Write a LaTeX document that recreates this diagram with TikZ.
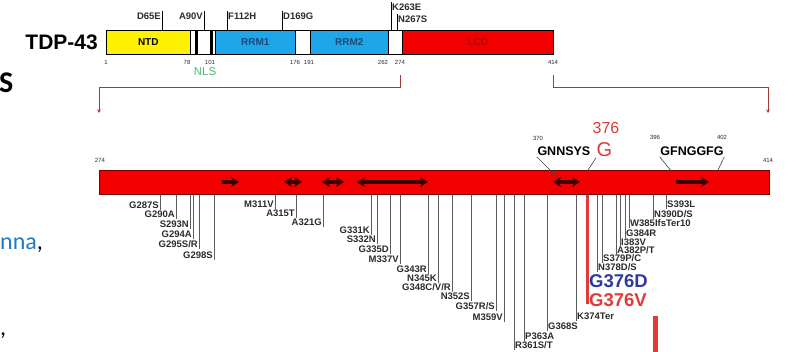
\documentclass[tikz,border=0pt]{standalone}
\usepackage{fontspec}
\setmainfont{Liberation Sans}
\newfontfamily\bodyfont{Carlito}
\usepackage{tikz}
\usetikzlibrary{arrows.meta, positioning, calc}
\definecolor{ntdyellow}{HTML}{FFF200}
\definecolor{rrmblue}{HTML}{1EA7E8}
\definecolor{rrmtext}{HTML}{1C4A7A}
\definecolor{lcdred}{HTML}{F20000}
\definecolor{lcddark}{HTML}{7A0000}
\definecolor{lcdtext}{HTML}{B80000}
\definecolor{brkred}{HTML}{A33A3A}
\definecolor{leadgray}{HTML}{5C5C5C}
\definecolor{mutgray}{HTML}{2B2B2B}
\definecolor{nlsgreen}{HTML}{4CBB6E}
\definecolor{hotred}{HTML}{E03A3A}
\definecolor{deepblue}{HTML}{2E3A9E}
\definecolor{linkblue}{HTML}{1F7BC4}
\definecolor{strandred}{HTML}{3A0000}
\newcommand{\mutfont}{\fontsize{9.5}{10}\selectfont\bfseries}
\newcommand{\posfont}{\fontsize{6}{6}\selectfont}

\begin{document}
\begin{tikzpicture}[x=1pt, y=-1pt,
  dom/.style={draw=black, line width=0.6pt, inner sep=0pt, minimum height=24pt, anchor=north west, font=\fontsize{10}{10}\selectfont\bfseries},
  posnum/.style={font=\posfont, text=mutgray, inner sep=0.5pt},
  toplbl/.style={font=\fontsize{9.5}{10}\selectfont\bfseries, text=mutgray, inner sep=1pt},
  mut/.style={font=\mutfont, text=mutgray, inner sep=1pt},
  lead/.style={draw=leadgray, line width=0.7pt},
  toplead/.style={draw=black, line width=0.6pt},
  motiflead/.style={draw=black!75, line width=0.6pt},
  brk/.style={draw=brkred, line width=1pt, -{Stealth[length=3.5pt,width=3.5pt]}},
  strand/.style={draw=strandred, line width=3.2pt, -{Stealth[length=8pt,width=10pt]}},
  strandboth/.style={draw=strandred, line width=3.2pt, {Stealth[length=8pt,width=10pt]}-{Stealth[length=8pt,width=10pt]}},
  motif/.style={font=\fontsize{12.5}{12.5}\selectfont\bfseries, inner sep=0.5pt},
  big/.style={font=\fontsize{18.5}{18.5}\selectfont\bfseries, inner sep=0pt, anchor=west}]
  \fill[white] (0,0) rectangle (798,352);
  \useasboundingbox (0,0) rectangle (798,352);
  % ============ cut-off page text on the left ============
  \node[font=\bodyfont\fontsize{30}{30}\selectfont\bfseries, anchor=base west, inner sep=0pt] (frags) at (-1,93) {S};
  \node[font=\bodyfont\fontsize{24}{24}\selectfont, text=linkblue, anchor=base west, inner sep=0pt] (fragnna) at (0,250) {nna\textcolor{black}{,}};
  \node[font=\bodyfont\fontsize{24}{24}\selectfont, anchor=base west, inner sep=0pt] (fragcomma) at (0,336) {,};
  % ============ full-length TDP-43 ============
  \node[dom, fill=ntdyellow, minimum width=84pt] (ntd) at (106,30) {NTD};
  \node[dom, fill=white, minimum width=25pt] (nls) at (190,30) {};
  \node[dom, fill=rrmblue, minimum width=80pt, text=rrmtext] (rrm1) at (215,30) {RRM1};
  \node[dom, fill=white, minimum width=15pt] (gap1) at (295,30) {};
  \node[dom, fill=rrmblue, minimum width=78pt, text=rrmtext] (rrm2) at (310,30) {RRM2};
  \node[dom, fill=white, minimum width=14pt] (gap2) at (388,30) {};
  \node[dom, fill=lcdred, minimum width=151pt, text=lcdtext] (lcd) at (402,30) {LCD};
  \draw[line width=2.6pt] ([xshift=6.5pt]nls.north west) -- ([xshift=6.5pt]nls.south west);
  \draw[line width=2.6pt] ([xshift=21.5pt]nls.north west) -- ([xshift=21.5pt]nls.south west);
  \node[font=\fontsize{21}{21}\selectfont\bfseries, inner sep=0pt, left=8pt of ntd] (protein) {TDP-43};
  \node[posnum] (p1) at (106,62) {1};
  \node[posnum] (p78) at (187,62) {78};
  \node[posnum] (p101) at (210,62) {101};
  \node[posnum] (p176) at (295,62) {176};
  \node[posnum] (p191) at (309,62) {191};
  \node[posnum] (p262) at (383,62) {262};
  \node[posnum] (p274) at (400,62) {274};
  \node[posnum] (p414) at (553,62) {414};
  \node[font=\fontsize{11.5}{11.5}\selectfont, text=nlsgreen, inner sep=0pt] (nlstxt) at (205,72) {NLS};
  % mutations above the bar
  \node[toplbl, anchor=east] (d65e) at (162,16) {D65E};
  \node[toplbl, anchor=east] (a90v) at (204,16) {A90V};
  \node[toplbl, anchor=west] (f112h) at (227,16) {F112H};
  \node[toplbl, anchor=west] (d169g) at (282,16) {D169G};
  \node[toplbl, anchor=west] (k263e) at (391,7) {K263E};
  \node[toplbl, anchor=west] (n267s) at (397,19) {N267S};
  \draw[toplead] (d65e.north east) -- (d65e.north east |- ntd.north);
  \draw[toplead] (a90v.north east) -- (a90v.north east |- ntd.north);
  \draw[toplead] (f112h.north west) -- (f112h.north west |- ntd.north);
  \draw[toplead] (d169g.north west) -- (d169g.north west |- ntd.north);
  \draw[toplead] (k263e.north west) -- (k263e.north west |- ntd.north);
  \draw[toplead] (n267s.north west) -- (n267s.north west |- ntd.north);
  % ============ zoom bracket ============
  \coordinate (lowstart) at (99,113);
  \coordinate (lowend) at (768,113);
  \draw[brk] (p274 |- 0,75) -- ++(0,13) -| (lowstart);
  \draw[brk] (p414 |- 0,75) -- ++(0,13) -| (lowend);
  % ============ LCD 274-414 ============
  \node[draw=lcddark, fill=lcdred, line width=0.8pt, minimum width=670pt, minimum height=24pt, inner sep=0pt, anchor=north west] (lcdbar) at (99,170) {};
  \node[posnum] (q274) at (100,160) {274};
  \node[posnum] (q414) at (768,160) {414};
  \draw[strand] (222,182) -- (239,182);
  \draw[strandboth] (284,182) -- (302,182);
  \draw[strandboth] (322,182) -- (344,182);
  \draw[strandboth] (357,182) -- (428,182);
  \draw[strandboth] (553,182) -- (580,182);
  \draw[strand] (676,182) -- (709,182);
  % motifs
  \node[posnum] (q370) at (538,138) {370};
  \node[motif, anchor=base east] (gnn) at (591,156) {GNNSYS};
  \node[font=\fontsize{20}{20}\selectfont, text=hotred, anchor=base west, inner sep=0.5pt] (gres) at (596,157) {G};
  \node[font=\fontsize{16}{16}\selectfont, text=hotred, inner sep=0pt] (gnum) at (606,128) {376};
  \draw[motiflead] (gnn.south west) -- (558,178);
  \draw[motiflead] (gres.south west) -- (588,170);
  \node[posnum] (q396) at (655,137) {396};
  \node[posnum] (q402) at (722,137) {402};
  \node[motif, anchor=base] (gfn) at (692,156) {GFNGGFG};
  \draw[motiflead] (gfn.south west) -- (672,172);
  \draw[motiflead] (gfn.south east) -- (717,172);
  % mutations below the bar
  \foreach \x/\y/\t [count=\i] in {160/205/G287S, 176/214/G290A, 190/224/S293N, 193/234/G294A,
      199/244/{G295S/R}, 214/255/G298S, 275/204/M311V, 296/213/A315T, 323/222/A321G,
      371/230/G331K, 377/239/S332N, 390/249/G335D, 400/259/M337V, 428/269/G343R,
      438/278/N345K, 452/287/{G348C/V/R}, 471/296/N352S, 496/306/{G357R/S}, 504/317/M359V}{
    \node[mut, anchor=east] (ml\i) at (\x,\y) {\t};
    \draw[lead] (ml\i.south east) -- (ml\i.south east |- lcdbar.south);
  }
  \foreach \x/\y/\t [count=\i] in {514/345/{R361S/T}, 524/336/P363A, 547/326/G368S, 576/316/K374Ter,
      597/267/{N378D/S}, 602/258/{S379P/C}, 616/250/{A382P/T}, 620/242/I383V, 625/233/G384R,
      629/223/W385IfsTer10, 653/214/{N390D/S}, 666/204/S393L}{
    \node[mut, anchor=west] (mr\i) at (\x,\y) {\t};
    \draw[lead] (mr\i.south west) -- (mr\i.south west |- lcdbar.south);
  }
  % G376
  \draw[draw=hotred, line width=3pt] (lcdbar.south -| 587,0) -- (587,304);
  \node[big, text=deepblue] (g376d) at (589,281) {G376D};
  \node[big, text=hotred] (g376v) at (589,300) {G376V};
  \draw[draw=hotred, line width=5pt] (655,316) -- (655,352);
\end{tikzpicture}
\end{document}
